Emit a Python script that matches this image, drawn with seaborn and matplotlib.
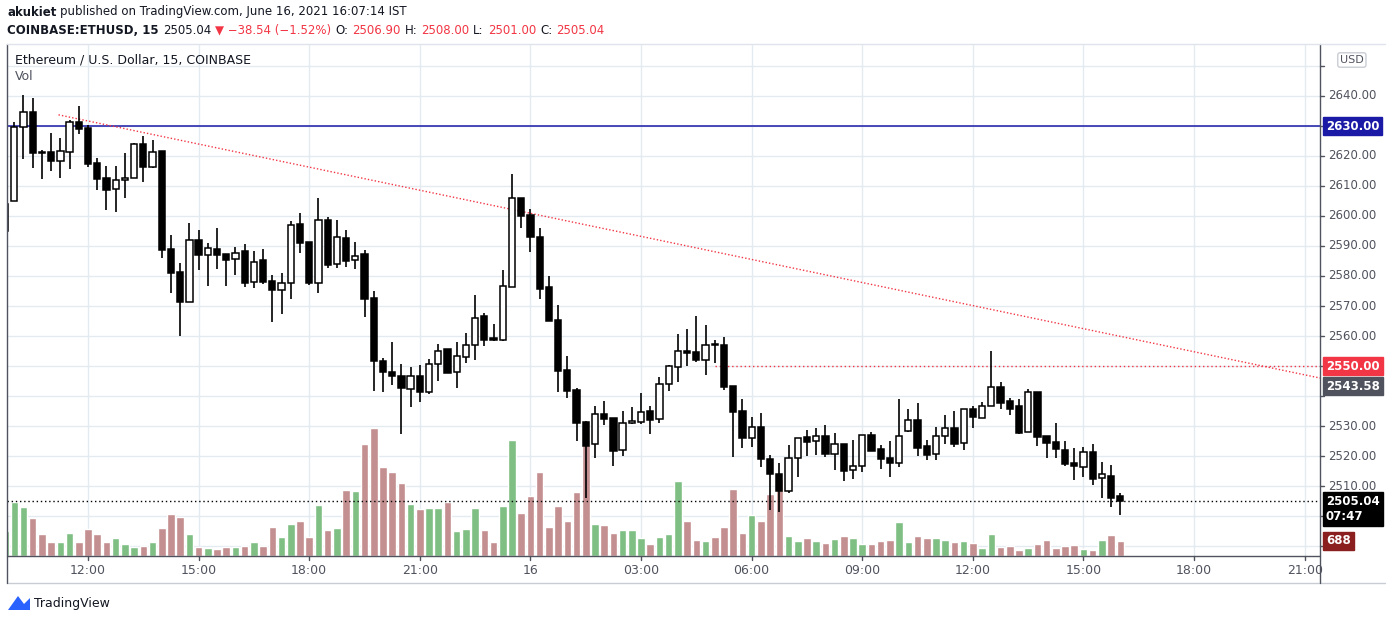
import matplotlib
matplotlib.use("Agg")
import matplotlib.pyplot as plt
import seaborn as sns
import numpy as np
from matplotlib.patches import Polygon
from matplotlib.lines import Line2D

opens = [2595,2605,2629.6,2634.6,2621.3,2621.2,2618.4,2621.2,2631.2,2629.3,2617.7,2612.7,2609,2611.9,2612.6,2624,2616.4,2621.6,2588.9,2581.2,
 2571.4,2591.9,2586.9,2589,2587.3,2585.6,2588.3,2578.1,2585.3,2578.3,2575.4,2577.6,2597.3,2591.3,2577.8,2598.7,2583.9,2592.6,2585.2,2587.2,
 2572.7,2551.7,2548,2546.7,2542.5,2546.7,2541.5,2550.6,2555.7,2547.9,2553.1,2556.9,2566.7,2559.2,2558.7,2576.4,2605.9,2600.2,2592.9,2576.2,
 2565.2,2548.6,2541.9,2531.2,2523.9,2533.9,2532.6,2521.9,2530.9,2531.2,2534.9,2532.2,2543.9,2549.6,2554.9,2554.6,2552.1,2557.3,2557,2543.3,
 2535,2525.9,2529.7,2519,2514,2508.4,2519.2,2526.3,2524.9,2526.7,2520.6,2524,2515.2,2516.6,2527,2522.3,2519.3,2517.6,2528.2,2532,
 2523.3,2520.6,2526.6,2529.3,2524.2,2535.7,2532.7,2536.6,2542.9,2538.3,2536.7,2527.9,2541.2,2526.6,2524.7,2522,2517.7,2516.2,2521.2,2512.6,
 2513.3,2506.7]
closes = [2604,2629.6,2634.6,2620.9,2620.9,2618.4,2621.6,2631.2,2629.1,2617.4,2612.4,2608.8,2612,2612.6,2624,2616.4,2621.2,2588.8,2581.1,2571.4,
 2591.9,2587.1,2589.2,2587.1,2585.4,2587.6,2577.8,2584.6,2578.1,2575.4,2577.6,2597,2591.1,2577.8,2598.7,2583.8,2592.9,2585.1,2586.6,2572.4,
 2551.8,2548.1,2546.8,2542.8,2546.6,2541.5,2550.6,2554.9,2547.8,2553.2,2556.9,2565.9,2558.7,2558.8,2576.6,2605.9,2600.1,2593.1,2575.8,2565.1,
 2548.4,2541.8,2531.1,2523.4,2533.9,2532.4,2521.8,2530.9,2531.6,2534.6,2531.9,2543.9,2549.9,2554.9,2554.2,2552.1,2556.9,2556.9,2543.1,2534.8,
 2526.1,2529.7,2519.1,2513.9,2508.4,2519.2,2525.9,2524.8,2526.7,2520.8,2524,2515.1,2516.7,2527,2521.8,2519.1,2517.6,2526.7,2532,2522.8,
 2520.4,2526.7,2529.3,2524.1,2535.7,2532.9,2536.7,2542.9,2537.8,2535.6,2527.7,2541.2,2526.4,2524.4,2522.4,2517.4,2516.6,2521.2,2512.4,2513.9,
 2506.1,2505.04]
highs = [2605,2631.2,2640.3,2639.3,2621.9,2627.7,2626,2632,2636.7,2630.2,2619.2,2616.7,2616.7,2621,2624.3,2626.7,2625.3,2621.6,2593.7,2584.3,
 2597.7,2595.3,2591,2596,2587.3,2589.7,2590.7,2588.3,2589,2580.3,2581,2598.3,2601,2591.3,2606,2599.7,2598.7,2595.3,2591.3,2588.7,
 2574.9,2552.7,2558,2550.7,2549.7,2550.2,2552.3,2557.3,2555.7,2558,2561,2573.7,2567.6,2564,2582,2614,2605.9,2602.2,2595.9,2580,
 2570.2,2553.2,2542.8,2531.6,2536.7,2538.3,2532.6,2535,2536.3,2541,2536.7,2546.3,2550.3,2560.7,2562.3,2566.7,2563.7,2558.6,2559.6,2543.3,
 2539,2533,2534.3,2520.3,2517.7,2523.7,2525.9,2528.7,2529.3,2530.3,2527.7,2524,2525.3,2527,2528,2523.6,2525,2539,2535.7,2537.7,
 2525.3,2529.7,2533.7,2535,2535.7,2536.7,2538,2555,2544.7,2539.3,2538.9,2542.3,2541.2,2526.6,2531,2525,2522.7,2522.9,2523.9,2517.9,
 2517,2507.7]
lows = [2594,2605,2619,2616.1,2612.4,2615.1,2612.8,2615.8,2627.2,2616.4,2608.8,2602.1,2601.4,2606.1,2612.6,2611.4,2616.1,2586.1,2574.4,2560.1,
 2571.4,2582.1,2576.8,2582.4,2576.8,2580.4,2576.4,2576.1,2577.4,2564.8,2567.4,2572.4,2587.8,2577.1,2574.4,2582.8,2582.8,2583.1,2582.4,2566.4,
 2541.8,2541.4,2543.7,2527.4,2536.4,2538.1,2540.6,2545.1,2547.8,2542.8,2551.1,2552.1,2556.8,2558.4,2558.4,2576.4,2596.1,2588.1,2572.4,2565.1,
 2541.2,2539.5,2525.1,2505.9,2519.4,2530.3,2516.8,2520.1,2530.6,2530.6,2527.4,2531.1,2541.8,2544.8,2550.1,2551.4,2547.1,2551.1,2542.1,2519.8,
 2522.8,2523.1,2516.4,2502.1,2501.4,2507.8,2513.1,2520.1,2520.4,2519.8,2515.4,2511.8,2512.4,2514.8,2521.8,2515.8,2513.1,2516.2,2527.9,2520.1,
 2518.8,2518.8,2524.1,2523.1,2522.1,2529.4,2532.7,2536.6,2535.8,2533.8,2527.4,2527.9,2523.4,2519.4,2519.4,2516.7,2511.9,2513.1,2510.4,2506.1,
 2503.1,2500.4]
volumes = [1150,2484,2254,1748,1012,644,644,1058,644,1242,1012,644,828,552,414,460,644,1288,1932,1794,
 1012,414,368,322,414,414,460,644,460,1334,874,1472,1610,874,2346,1196,1288,3036,2990,5152,
 5888,4094,3864,3358,2392,2162,2208,2208,2484,1150,1242,2208,1196,644,2300,5336,1978,2760,3864,1334,
 2300,1610,2944,5106,1472,1426,1058,1196,1196,828,552,874,1012,3450,1610,736,690,874,1334,3082,
 1058,1886,1610,2852,3542,920,690,828,690,598,782,920,828,552,552,690,736,1564,644,920,
 828,828,736,644,690,598,368,1012,414,460,276,368,552,736,368,460,506,322,276,736,
 966,688]
time_ticks = [9, 21, 33, 45, 57, 69, 81, 93, 105, 117, 129, 141]
time_labels = ["12:00", "15:00", "18:00", "21:00", "16", "03:00", "06:00", "09:00", "12:00", "15:00", "18:00", "21:00"]
price_ticks = list(range(2490, 2660, 10))
hidden_ticks = [2650, 2630, 2550, 2540, 2500, 2490]

sns.set_theme(style="white")
W, H = 1391, 621
fig = plt.figure(figsize=(W/100, H/100), dpi=100)
fig.patch.set_facecolor("white")

def fx(px): return px / W
def fy(py): return 1 - py / H

ax_left, ax_right, ax_top, ax_bot = 7, 1320, 44, 556
ax2 = fig.add_axes([fx(ax_left), fy(ax_bot), fx(ax_right-ax_left), fy(ax_top)-fy(ax_bot)])
ax = fig.add_axes(ax2.get_position(), sharex=ax2)
ax.set_zorder(ax2.get_zorder() + 1)
ax.patch.set_visible(False)

n = len(opens)
idx = np.arange(n)
xmin, xmax = 0.21, 142.66
ymin, ymax = 2486.7, 2657.3
vmax = 512 * 45.9
ax.set_xlim(xmin, xmax)
ax.set_ylim(ymin, ymax)
ax2.set_ylim(0, vmax)

grid_c = "#e3ebf1"
for p in price_ticks:
    ax2.axhline((p - ymin) / (ymax - ymin) * vmax, color=grid_c, lw=1, zorder=0)
for t in time_ticks:
    ax2.axvline(t, color=grid_c, lw=1, zorder=0)

up = [c >= o for o, c in zip(opens, closes)]
vcol = ["#80bf84" if u else "#c38f90" for u in up]
ax2.bar(idx, volumes, width=0.82, color=vcol, zorder=1)

ax.vlines(idx, lows, highs, color="black", lw=1.2, zorder=3)
bottoms = [min(o, c) for o, c in zip(opens, closes)]
heights = [max(abs(c - o), 0.35) for o, c in zip(opens, closes)]
ax.bar(idx, heights, bottom=bottoms, width=0.68,
       color=["white" if u else "black" for u in up], edgecolor="black", linewidth=1.1, zorder=4)

ax.axhline(2630, color="#1a1aa6", lw=1.1, zorder=2)
ax.axhline(closes[-1], color="black", lw=1, ls=(0, (1, 2)), zorder=2)
ax.plot([77, xmax], [2550, 2550], color="#f23645", lw=1, ls=(0, (1, 2)), zorder=2)
ax.plot([5.8, xmax], [2633.7, 2546.0], color="#f23645", lw=1, ls=(0, (1, 1.5)), zorder=2)

for a in (ax, ax2):
    for s in a.spines.values():
        s.set_visible(False)
    a.set_yticks([])
    a.set_xticks([])

fig.add_artist(Line2D([fx(7), fx(1385)], [fy(583), fy(583)], color="#c9cdd3", lw=1))
fig.add_artist(Line2D([fx(7), fx(7)], [fy(44), fy(583)], color="#50535e", lw=1))
fig.add_artist(Line2D([fx(7), fx(1320)], [fy(556), fy(556)], color="#50535e", lw=1))
fig.add_artist(Line2D([fx(1320), fx(1320)], [fy(44), fy(583)], color="#50535e", lw=1))
fig.add_artist(Line2D([fx(7), fx(1385)], [fy(44), fy(44)], color="#e0e3eb", lw=1))

def px_of_i(i): return 7 + (i - xmin) / (xmax - xmin) * (ax_right - ax_left)
def py_of_p(p): return ax_bot - (p - ymin) / (ymax - ymin) * (ax_bot - ax_top)

for t, lab in zip(time_ticks, time_labels):
    x = px_of_i(t)
    fig.add_artist(Line2D([fx(x), fx(x)], [fy(556), fy(560)], color="#50535e", lw=1))
    fig.text(fx(x), fy(570), lab, ha="center", va="center", fontsize=9, color="#50535e")

for p in price_ticks:
    y = py_of_p(p)
    fig.add_artist(Line2D([fx(1320), fx(1324)], [fy(y), fy(y)], color="#50535e", lw=1))
    if p not in hidden_ticks:
        fig.text(fx(1328), fy(y), f"{p:.2f}", ha="left", va="center", fontsize=8.5, color="#50535e")

def tag(y, text, bg, fs=8.5, x=1326):
    fig.text(fx(x), fy(y), text, ha="left", va="center", fontsize=fs, color="white", fontweight="bold",
             bbox=dict(boxstyle="square,pad=0.25", fc=bg, ec=bg), zorder=10)

tag(126, "2630.00", "#1a1aa6")
tag(366, "2550.00", "#f23645")
tag(386, "2543.58", "#50535e")
tag(509, "2505.04\n07:47", "#000000")
tag(541, "688", "#8b1e1e")
fig.text(fx(1340), fy(60), "USD", ha="left", va="center", fontsize=8, color="#50535e",
         bbox=dict(boxstyle="round,pad=0.2", fc="white", ec="#c9cdd3"), zorder=10)

renderer = fig.canvas.get_renderer()
def seq(x0, y, pieces, fs=8.5):
    x = x0
    for txt, col, bold in pieces:
        t = fig.text(fx(x), fy(y), txt, fontsize=fs, va="center", color=col,
                     fontweight="bold" if bold else "normal")
        bb = t.get_window_extent(renderer=renderer)
        x += bb.width + 4

dark, red = "#131722", "#f23645"
seq(7, 12, [("akukiet", dark, True), ("published on TradingView.com, June 16, 2021 16:07:14 IST", dark, False)])
seq(7, 30, [("COINBASE:ETHUSD, 15", dark, True), ("2505.04", dark, False), ("▼ −38.54 (−1.52%)", red, False),
            ("O:", dark, False), ("2506.90", red, False), ("H:", dark, False), ("2508.00", red, False),
            ("L:", dark, False), ("2501.00", red, False), ("C:", dark, False), ("2505.04", red, False)])
fig.text(fx(15), fy(60), "Ethereum / U.S. Dollar, 15, COINBASE", fontsize=9, va="center", color=dark)
fig.text(fx(15), fy(77), "Vol", fontsize=9, va="center", color="#50535e")

fig.add_artist(Polygon([[fx(8), fy(610)], [fx(18), fy(596)], [fx(24), fy(604)], [fx(30), fy(598)], [fx(30), fy(610)]],
                       closed=True, fc="#2962ff", ec="none", transform=fig.transFigure))
fig.text(fx(34), fy(603), "TradingView", fontsize=9, va="center", color=dark)

fig.savefig("out.png", dpi=100)
